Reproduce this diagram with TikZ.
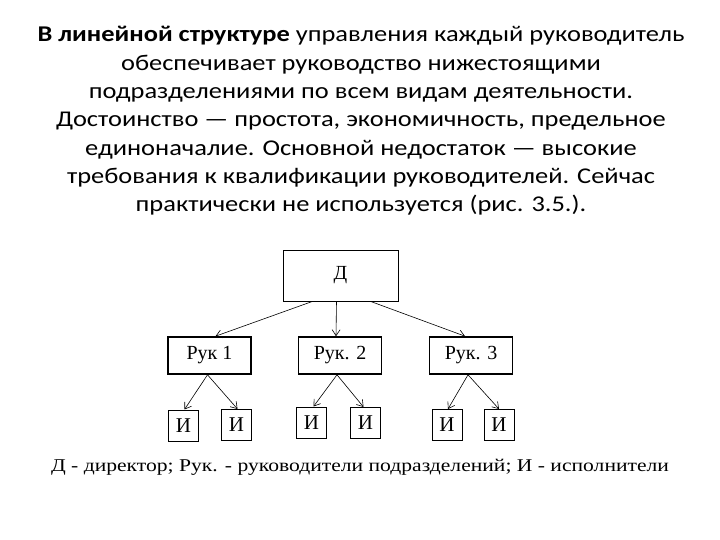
\documentclass[tikz,border=0pt]{standalone}
\usepackage{fontspec}
\setmainfont{Liberation Serif}
\newfontfamily\titlefont{Carlito}
\usetikzlibrary{arrows.meta}
\begin{document}
\begin{tikzpicture}[x=1pt,y=-1pt,
  boxd/.style={draw,line width=0.8pt,inner sep=0pt,font=\fontsize{20}{22}\selectfont},
  boxr/.style={draw,line width=1.6pt,inner sep=0pt,minimum width=83pt,minimum height=37pt,font=\fontsize{20}{22}\selectfont},
  boxi/.style={draw,line width=1pt,inner sep=0pt,minimum width=30pt,minimum height=31pt,font=\fontsize{21}{22}\selectfont},
  arr/.style={line width=0.6pt,-{Straight Barb[length=6pt,width=8pt]}}]
\useasboundingbox (0,0) rectangle (720,540);
\node[font=\titlefont\fontsize{22.5}{28.3}\selectfont,align=center,xscale=1.175,transform shape] (title) at (361,121)
 {\textbf{В линейной структуре} управления каждый руководитель\\
  обеспечивает руководство нижестоящими\\
  подразделениями по всем видам деятельности.\\
  Достоинство — простота, экономичность, предельное\\
  единоначалие. Основной недостаток — высокие\\
  требования к квалификации руководителей. Сейчас\\
  практически не используется (рис. 3.5.).};
\node[boxd,minimum width=115pt,minimum height=51pt] (D) at (340.5,275.5) {Д};
\node[boxr] (R1) at (209.5,355.5) {Рук 1};
\node[boxr] (R2) at (340,355.5) {Рук. 2};
\node[boxr] (R3) at (471,355.5) {Рук. 3};
\node[boxi] (I1) at (183.5,425.5) {И};
\node[boxi] (I2) at (236.5,425) {И};
\node[boxi] (I3) at (311.5,422.5) {И};
\node[boxi] (I4) at (365.5,423) {И};
\node[boxi] (I5) at (447,425) {И};
\node[boxi] (I6) at (499,425) {И};
\draw[arr] ([xshift=-28pt]D.south) -- ([xshift=6pt]R1.north);
\draw[arr] ([xshift=-4pt]D.south) -- ([xshift=-4pt]R2.north);
\draw[arr] ([xshift=30pt]D.south) -- ([xshift=-6pt]R3.north);
\draw[arr] ([xshift=-2pt]R1.south) -- ([xshift=1pt]I1.north);
\draw[arr] ([xshift=-2pt]R1.south) -- ([xshift=1pt]I2.north);
\draw[arr] ([xshift=-3pt]R2.south) -- ([xshift=2pt]I3.north);
\draw[arr] ([xshift=-3pt]R2.south) -- ([xshift=-2pt]I4.north);
\draw[arr] ([xshift=-3pt]R3.south) -- ([xshift=1pt]I5.north);
\draw[arr] ([xshift=-3pt]R3.south) -- ([xshift=0pt]I6.north);
\node[font=\fontsize{18}{20}\selectfont,xscale=1.2,transform shape] (legend) at (360,467)
 {Д - директор; Рук. - руководители подразделений; И - исполнители};
\end{tikzpicture}
\end{document}
